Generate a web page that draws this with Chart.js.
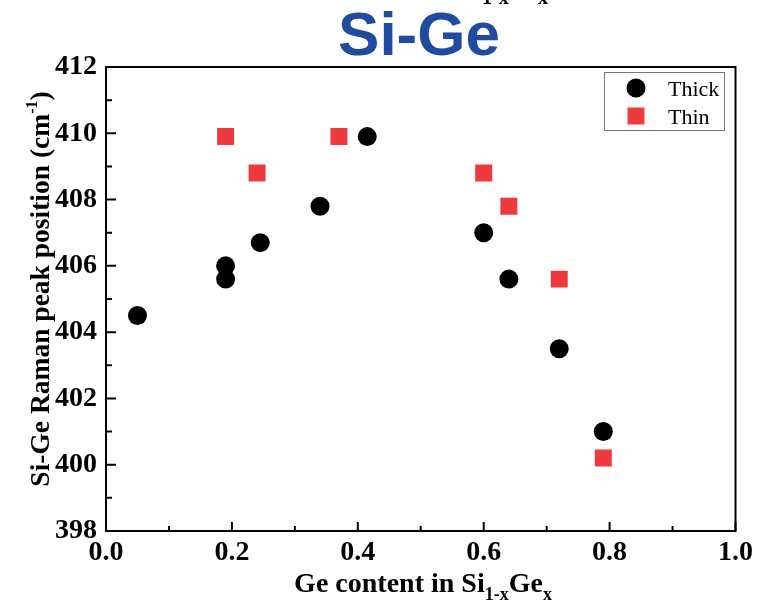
<!DOCTYPE html>
<html>
<head>
<meta charset="utf-8">
<script src="https://cdn.jsdelivr.net/npm/chart.js@4/dist/chart.umd.min.js"></script>
<style>
  body { margin: 0; background: #fff; }
  canvas { display: block; }
</style>
</head>
<body>
<canvas id="myChart" width="758" height="606"></canvas>
<script>
// Ge content x and Si-Ge Raman peak positions (cm-1)
var thickX = [0.05, 0.19, 0.19, 0.245, 0.34, 0.415, 0.60, 0.64, 0.72, 0.79];
var thickY = [404.5, 406.0, 405.6, 406.7, 407.8, 409.9, 407.0, 405.6, 403.5, 401.0];

var thinX = [0.19, 0.24, 0.37, 0.60, 0.64, 0.72, 0.79];
var thinY = [409.9, 408.8, 409.9, 408.8, 407.8, 405.6, 400.2];

var seriesNames = ['Thick', 'Thin'];
var xTicks = [0.0, 0.2, 0.4, 0.6, 0.8, 1.0];
var yTicks = [398, 400, 402, 404, 406, 408, 410, 412];

var serif = '"Liberation Serif", "Times New Roman", serif';
var red = '#EE3A3F';

function toPoints(xs, ys) {
    var pts = [];
    for (var i = 0; i < xs.length; i++) {
        pts.push({ x: xs[i], y: ys[i] });
    }
    return pts;
}

// frame, inward ticks, axis titles, legend and the big title
var decor = {
    id: 'decor',
    afterDraw: function(chart) {
        var c = chart.ctx;
        var a = chart.chartArea;
        var sx = chart.scales.x;
        var sy = chart.scales.y;
        c.save();

        // box round the plot
        c.strokeStyle = '#000';
        c.lineWidth = 2;
        c.strokeRect(a.left, a.top, a.right - a.left, a.bottom - a.top);

        // tick marks pointing in
        c.beginPath();
        for (var i = 0; i <= 10; i++) {
            var px = sx.getPixelForValue(i / 10);
            var len = (i % 2 == 0) ? 9 : 5;
            c.moveTo(px, a.bottom);
            c.lineTo(px, a.bottom - len);
        }
        for (var v = 398; v <= 412; v++) {
            var py = sy.getPixelForValue(v);
            var l = (v % 2 == 0) ? 10 : 6;
            c.moveTo(a.left, py);
            c.lineTo(a.left + l, py);
        }
        c.stroke();

        // x axis title with subscripts
        var parts = [
            ['Ge content in Si', 'bold 28px ' + serif, 0],
            ['1-x', 'bold 18px ' + serif, 8],
            ['Ge', 'bold 28px ' + serif, 0],
            ['x', 'bold 18px ' + serif, 8]
        ];
        var total = 0;
        parts.forEach(function(p) { c.font = p[1]; total += c.measureText(p[0]).width; });
        var x0 = 423 - total / 2;
        c.fillStyle = '#000';
        c.textBaseline = 'alphabetic';
        c.textAlign = 'left';
        parts.forEach(function(p) {
            c.font = p[1];
            c.fillText(p[0], x0, 592 + p[2]);
            x0 += c.measureText(p[0]).width;
        });

        // y axis title, rotated
        c.save();
        c.translate(49, 289);
        c.rotate(-Math.PI / 2);
        var yparts = [
            ['Si-Ge Raman peak position ', 'bold 27.5px ' + serif, 0],
            ['(cm', 'bold 27.5px ' + serif, 0],
            ['-1', 'bold 16px ' + serif, -12],
            [')', 'bold 27.5px ' + serif, 0]
        ];
        var yt = 0;
        yparts.forEach(function(p) { c.font = p[1]; yt += c.measureText(p[0]).width; });
        var y0 = -yt / 2;
        yparts.forEach(function(p) {
            c.font = p[1];
            c.fillText(p[0], y0, p[2]);
            y0 += c.measureText(p[0]).width;
        });
        c.restore();

        // legend
        c.lineWidth = 1;
        c.strokeStyle = '#777';
        c.strokeRect(604.5, 72.5, 120, 58);
        c.fillStyle = '#000';
        c.beginPath();
        c.arc(636, 88, 9.5, 0, Math.PI * 2);
        c.fill();
        c.fillStyle = red;
        c.fillRect(627.5, 107.5, 17, 17);
        c.fillStyle = '#000';
        c.font = '22px ' + serif;
        c.fillText(seriesNames[0], 668, 96);
        c.fillText(seriesNames[1], 668, 124);

        // title
        c.fillStyle = '#214B9F';
        c.textAlign = 'center';
        c.font = 'bold 62px "Liberation Sans", Arial, sans-serif';
        c.fillText('Si-Ge', 419, 55);
        c.fillStyle = '#000';
        c.textAlign = 'left';
        c.font = 'bold 20px ' + serif;
        c.fillText('1-x', 482, 4);
        c.fillText('x', 538, 4);

        c.restore();
    }
};

var ctx = document.getElementById('myChart').getContext('2d');

var chart = new Chart(ctx, {
    type: 'scatter',
    data: {
        datasets: [{
            label: seriesNames[0],
            data: toPoints(thickX, thickY),
            pointStyle: 'circle',
            pointRadius: 9.5,
            pointBorderWidth: 0,
            backgroundColor: '#000',
            borderColor: '#000'
        }, {
            label: seriesNames[1],
            data: toPoints(thinX, thinY),
            pointStyle: 'rect',
            pointRadius: 12,
            pointBorderWidth: 0,
            backgroundColor: red,
            borderColor: red
        }]
    },
    options: {
        responsive: false,
        animation: false,
        layout: { padding: { top: 67, right: 22, left: 0, bottom: 0 } },
        plugins: {
            legend: { display: false },
            tooltip: { enabled: false }
        },
        scales: {
            x: {
                type: 'linear',
                min: 0,
                max: 1,
                grid: { display: false, drawTicks: false },
                border: { display: false },
                afterFit: function(s) { s.height = 75; },
                afterBuildTicks: function(s) {
                    s.ticks = xTicks.map(function(v) { return { value: v }; });
                },
                ticks: {
                    color: '#000',
                    padding: 5,
                    maxRotation: 0,
                    font: { family: serif, size: 28, weight: 'bold' },
                    callback: function(v) { return v.toFixed(1); }
                }
            },
            y: {
                min: 398,
                max: 412,
                grid: { display: false, drawTicks: false },
                border: { display: false },
                afterFit: function(s) { s.width = 106; },
                afterBuildTicks: function(s) {
                    s.ticks = yTicks.map(function(v) { return { value: v }; });
                },
                ticks: {
                    color: '#000',
                    padding: 9,
                    font: { family: serif, size: 28, weight: 'bold' }
                }
            }
        }
    },
    plugins: [decor]
});
</script>
</body>
</html>
